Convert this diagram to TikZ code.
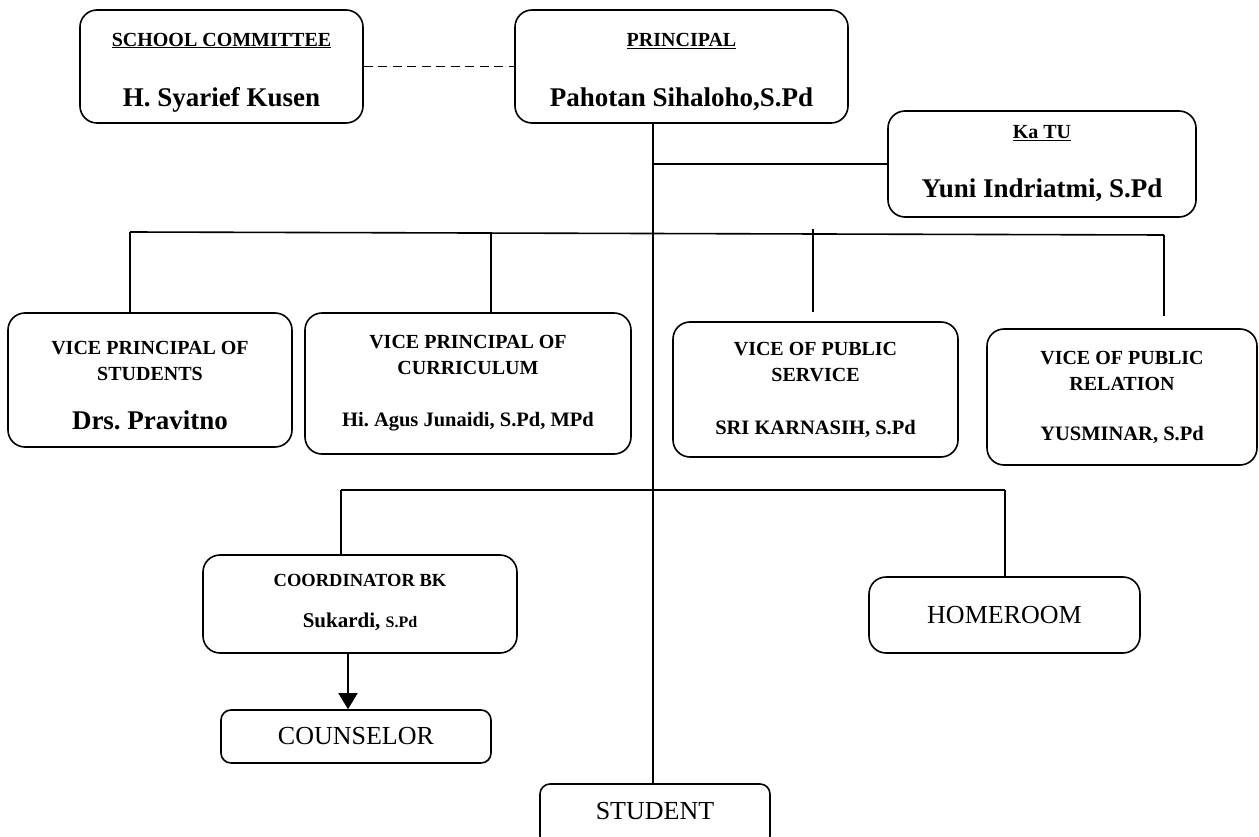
\documentclass[tikz,border=0pt]{standalone}
\usepackage{fontspec}
\setmainfont{Liberation Serif}
\usetikzlibrary{arrows.meta}
\frenchspacing

\newcommand{\headfont}{\fontsize{20}{26}\selectfont\bfseries}
\newcommand{\namefont}{\fontsize{27}{32}\selectfont\bfseries}
\newcommand{\midfont}{\fontsize{20.5}{24}\selectfont\bfseries}
\newcommand{\plainfont}{\fontsize{26}{30}\selectfont\mdseries}

\begin{document}
\begin{tikzpicture}[
     x = 1pt, y = -1pt,
     line width = 1.6pt,
     box/.style = {draw, rounded corners = 17pt, align = center, inner sep = 0pt, font = \headfont},
     link/.style = {line width = 1.6pt},
     tip/.style = {-{Triangle[width = 19pt, length = 16pt]}}
    ]
    \useasboundingbox (0,0) rectangle (1259,837);

    % top
    \node[box, minimum width = 283pt, minimum height = 113pt] (committee) at (221.5,66.5)
      {\rule{0pt}{25pt}\underline{SCHOOL COMMITTEE}\\[34pt]\namefont H. Syarief Kusen};
    \node[box, minimum width = 333pt, minimum height = 113pt] (principal) at (681.5,66.5)
      {\rule{0pt}{24pt}\underline{PRINCIPAL}\\[34pt]\namefont Pahotan Sihaloho,S.Pd};
    \node[box, minimum width = 308pt, minimum height = 106pt] (katu) at (1042,164)
      {\underline{Ka TU}\\[33pt]\namefont Yuni Indriatmi, S.Pd};

    % vice principals
    \node[box, minimum width = 284pt, minimum height = 134pt] (vstudent) at (150,380)
      {\rule{0pt}{25pt}VICE PRINCIPAL OF\\STUDENTS\\[23pt]\namefont Drs. Pravitno};
    \node[box, minimum width = 326pt, minimum height = 141pt] (vcurric) at (468,383.5)
      {VICE PRINCIPAL OF\\CURRICULUM\\[26pt]\midfont Hi. Agus Junaidi, S.Pd, MPd};
    \node[box, minimum width = 285pt, minimum height = 135pt] (vservice) at (815.5,389.5)
      {VICE OF PUBLIC\\SERVICE\\[27pt]\midfont SRI KARNASIH, S.Pd};
    \node[box, minimum width = 270pt, minimum height = 136pt] (vrelation) at (1122,397)
      {VICE OF PUBLIC\\RELATION\\[24pt]\midfont YUSMINAR, S.Pd};

    % lower part
    \node[box, minimum width = 314pt, minimum height = 98pt] (coord) at (360,604)
      {\fontsize{18.5}{25}\selectfont\bfseries COORDINATOR BK\\[15pt]%
       \fontsize{21}{25}\selectfont\bfseries Sukardi, {\fontsize{16}{20}\selectfont S.Pd}\rule[-6pt]{0pt}{0pt}};
    \node[box, minimum width = 271pt, minimum height = 76pt] (homeroom) at (1004.5,615)
      {\plainfont HOMEROOM};
    \node[box, rounded corners = 10pt, minimum width = 270pt, minimum height = 53pt] (counselor) at (356,736.5)
      {\plainfont COUNSELOR};
    \node[box, rounded corners = 10pt, minimum width = 230pt, minimum height = 62pt] (student) at (655,815)
      {\plainfont STUDENT\rule[-8pt]{0pt}{0pt}};

    \coordinate (spine) at (653,123);
    \coordinate (busL) at (130,232);
    \coordinate (busR) at (1164,235);
    \coordinate (dropC) at (491,233);
    \coordinate (dropS) at (813,229);
    \coordinate (lowL) at (341,490);
    \coordinate (lowR) at (1005,490);

    \draw[link, dash pattern = on 9pt off 5.5pt] (committee.east) -- (committee.east -| principal.west);
    \draw[link] (spine) -- (spine |- student.north);
    \draw[link] (katu.west -| spine) -- (katu.west);

    \draw[link] (busL) -- (busR);
    \draw[link] (busL) -- (busL |- vstudent.north);
    \draw[link] (dropC) -- (dropC |- vcurric.north);
    \draw[link] (dropS) -- ([yshift=9pt]dropS |- vservice.north);
    \draw[link] (busR) -- ([yshift=12pt]busR |- vrelation.north);

    \draw[link] (lowL) -- (lowR);
    \draw[link] (lowL) -- (lowL |- coord.north);
    \draw[link] (lowR) -- (lowR |- homeroom.north);
    \draw[link, tip] ([xshift=-12pt]coord.south) -- ([xshift=-12pt]coord.south |- counselor.north);

\end{tikzpicture}
\end{document}
